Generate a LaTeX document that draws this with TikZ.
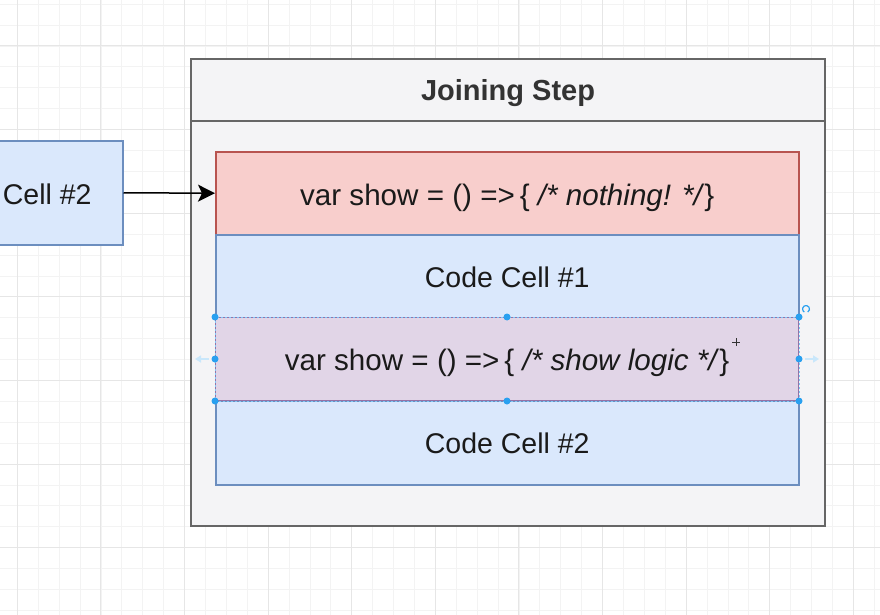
\documentclass[tikz,border=0pt]{standalone}
\usepackage{fontspec}
\setmainfont{Liberation Sans}
\usetikzlibrary{arrows.meta}
\definecolor{gridminor}{HTML}{F3F3F3}
\definecolor{gridmajor}{HTML}{E6E6E6}
\definecolor{outerfill}{HTML}{F4F4F6}
\definecolor{outerdraw}{HTML}{666666}
\definecolor{redfill}{HTML}{F8CECC}
\definecolor{reddraw}{HTML}{B85450}
\definecolor{bluefill}{HTML}{DAE8FC}
\definecolor{bluedraw}{HTML}{6C8EBF}
\definecolor{purplefill}{HTML}{E1D5E7}
\definecolor{purpledraw}{HTML}{9673A6}
\definecolor{handle}{HTML}{29A0F0}
\definecolor{txtcol}{HTML}{1A1A1A}
\definecolor{titlecol}{HTML}{333333}
\tikzset{
  minorline/.style={draw=gridminor, line width=0.8},
  majorline/.style={draw=gridmajor, line width=1},
  box/.style={rectangle, anchor=north west, inner sep=0pt, line width=1.5},
  bodytext/.style={font=\fontsize{28.5}{34}\selectfont, text=txtcol},
  codetext/.style={font=\fontsize{29.6}{35}\selectfont, text=txtcol},
  titletext/.style={font=\fontsize{29}{34}\selectfont\bfseries, text=titlecol},
  handledot/.style={circle, fill=handle, inner sep=0pt, minimum size=7pt}
}
\begin{document}
\begin{tikzpicture}[x=1pt,y=-1pt]
\clip (0,0) rectangle (880,615);
\fill[white] (0,0) rectangle (880,615);
% grid
\foreach \k in {0,...,43} {\draw[minorline] ({17.3+(\k-1)*20.9},0) -- ++(0,615);}
\foreach \k in {0,...,30} {\draw[minorline] (0,{4.2+\k*20.9}) -- ++(880,0);}
\foreach \k in {0,...,11} {\draw[majorline] ({17.3+\k*83.6},0) -- ++(0,615);}
\foreach \k in {0,...,7} {\draw[majorline] (0,{46+\k*83.6}) -- ++(880,0);}
% outer container
\node (outer) [box, draw=outerdraw, fill=outerfill, line width=2, minimum width=634pt, minimum height=467pt] at (190,58) {};
\node (header) [box, draw=outerdraw, line width=2, minimum width=634pt, minimum height=62pt] at (190,58) {};
\node (title) [titletext] at ([yshift=-3]header.center) {Joining Step};
% left cell
\node (leftcell) [box, draw=bluedraw, fill=bluefill, minimum width=151pt, minimum height=104pt] at (-29,140) {};
\node (lefttext) [bodytext] at ([yshift=-2]leftcell.center) {Cell \#2};
% red
\node (red) [box, draw=reddraw, fill=redfill, minimum width=583pt, minimum height=83pt] at (215,151) {};
\node (redtext) [codetext] at ([yshift=-5]red.center) {var show = () =>\,\{ \textit{/* nothing! */}\}};
% blue cells
\node (cellA) [box, draw=bluedraw, fill=bluefill, minimum width=583pt, minimum height=83pt] at (215,234) {};
\node (cellAtext) [bodytext] at ([yshift=-1]cellA.center) {Code Cell \#1};
\node (cellB) [box, draw=bluedraw, fill=bluefill, minimum width=583pt, minimum height=84pt] at (215,400) {};
\node (cellBtext) [bodytext] at ([yshift=-1]cellB.center) {Code Cell \#2};
% purple
\node (purple) [box, draw=purpledraw, fill=purplefill, line width=1, minimum width=583pt, minimum height=83pt] at (215,317) {};
\draw[handle!60, line width=0.6, dash pattern=on 2pt off 2pt] (purple.north west) rectangle (purple.south east);
\node (purpletext) [codetext] at ([yshift=-4]purple.center) {var show = () =>\,\{ \textit{/* show logic */}\}};
% arrow
\draw[line width=1.5, -{Stealth[length=17pt, width=17pt, inset=4pt]}] (leftcell.east) -- (red.west);
% selection handles
\foreach \a in {north west, north, north east, west, east, south west, south, south east}
  {\node[handledot] at (purple.\a) {};}
\coordinate (la) at ([xshift=-6]purple.west);
\coordinate (ra) at ([xshift=6]purple.east);
\draw[handle!25, line width=2.5, -{Triangle[length=6pt,width=7pt]}] (la) -- ++(-14,0);
\draw[handle!25, line width=2.5, -{Triangle[length=6pt,width=7pt]}] (ra) -- ++(14,0);
\coordinate (rot) at (806,309);
\draw[handle, line width=1.2] ([shift={(60:3.5)}]rot) arc (60:-240:3.5);
% cursor
\coordinate (cur) at (736,342);
\draw[black!80, line width=1] ([xshift=-4]cur) -- ([xshift=4]cur) ([yshift=-4]cur) -- ([yshift=4]cur);
\end{tikzpicture}
\end{document}
